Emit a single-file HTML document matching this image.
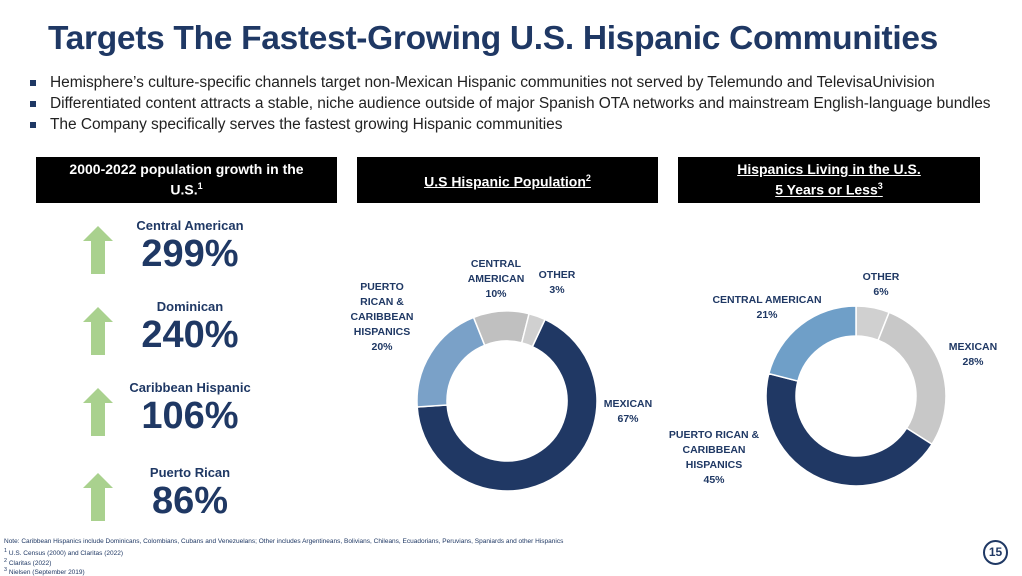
<!DOCTYPE html>
<html><head><meta charset="utf-8">
<style>
*{margin:0;padding:0;box-sizing:border-box}
body{width:1022px;height:574px;background:#fff;position:relative;overflow:hidden;font-family:"Liberation Sans",sans-serif;color:#1f3864}
.abs{position:absolute}
h1{position:absolute;left:48px;top:20px;font-size:33.5px;font-weight:bold;color:#1f3864;letter-spacing:-0.3px;white-space:nowrap}
.bul{position:absolute;left:30px;font-size:15.5px;color:#222;white-space:nowrap;letter-spacing:-0.05px}
.bul::before{content:"";position:absolute;left:0;top:6px;width:6px;height:6px;background:#1f3864}
.bul span{margin-left:20px}
.hdr{position:absolute;top:157px;height:46px;background:#000;color:#fff;font-weight:bold;font-size:14px;text-align:center;display:flex;align-items:center;justify-content:center;line-height:17px}
.hdr.u span{text-decoration:underline}
.lbl{position:absolute;width:200px;left:90px;text-align:center;font-weight:bold;font-size:13px;color:#1f3864}
.big{position:absolute;width:200px;left:90px;text-align:center;font-weight:bold;font-size:38px;color:#1f3864}
.arrow{position:absolute;left:83px;width:30px;height:48px}
.note{position:absolute;left:4px;font-size:6.5px;color:#1f3864;white-space:nowrap}
</style></head><body>
<h1>Targets The Fastest-Growing U.S. Hispanic Communities</h1>
<div class="bul" style="top:74px"><span>Hemisphere’s culture-specific channels target non-Mexican Hispanic communities not served by Telemundo and TelevisaUnivision</span></div>
<div class="bul" style="top:95px"><span>Differentiated content attracts a stable, niche audience outside of major Spanish OTA networks and mainstream English-language bundles</span></div>
<div class="bul" style="top:116px"><span>The Company specifically serves the fastest growing Hispanic communities</span></div>

<div class="hdr" style="left:36px;width:301px"><span>2000-2022 population growth in the<br>U.S.<sup style="font-size:9px">1</sup></span></div>
<div class="hdr u" style="left:357px;width:301px"><span>U.S Hispanic Population<sup style="font-size:9px">2</sup></span></div>
<div class="hdr u" style="left:678px;width:302px"><span>Hispanics Living in the U.S.<br>5 Years or Less<sup style="font-size:9px">3</sup></span></div>

<div id="growth"></div>

<svg class="abs" style="left:0;top:0" width="1022" height="574" id="charts"></svg>

<div class="note" style="top:538px">Note: Caribbean Hispanics include Dominicans, Colombians, Cubans and Venezuelans; Other includes Argentineans, Bolivians, Chileans, Ecuadorians, Peruvians, Spaniards and other Hispanics</div>
<div class="note" style="top:548px"><sup>1</sup> U.S. Census (2000) and Claritas (2022)</div>
<div class="note" style="top:558px"><sup>2</sup> Claritas (2022)</div>
<div class="note" style="top:567px"><sup>3</sup> Nielsen (September 2019)</div>
<div class="abs" style="left:983px;top:540px;width:25px;height:25px;border:2px solid #1f3864;border-radius:50%;font-size:12px;font-weight:bold;text-align:center;line-height:21px">15</div>

<script>
const growthLabels=["Central American","Dominican","Caribbean Hispanic","Puerto Rican"];
const growthValues=[299,240,106,86];
const pop1Cats=["MEXICAN","PUERTO RICAN & CARIBBEAN HISPANICS","CENTRAL AMERICAN","OTHER"];
const pop1Vals=[67,20,10,3];
const pop2Cats=["OTHER","MEXICAN","PUERTO RICAN & CARIBBEAN HISPANICS","CENTRAL AMERICAN"];
const pop2Vals=[6,28,45,21];

const g=document.getElementById('growth');
const rowTops=[218,299,380,465];
growthLabels.forEach((l,i)=>{
  const t=rowTops[i];
  const a=document.createElement('div');a.className='lbl';a.style.top=t+'px';a.textContent=l;
  
  
  g.appendChild(a);
  const b=document.createElement('div');b.className='big';b.style.top=(t+15)+'px';b.textContent=growthValues[i]+'%';
  
  
  g.appendChild(b);
  const ar=document.createElementNS('http://www.w3.org/2000/svg','svg');
  ar.setAttribute('class','arrow');ar.setAttribute('viewBox','0 0 30 48');ar.style.top=(t+8)+'px';
  ar.innerHTML='<polygon points="15,0 30,15 22,15 22,48 8,48 8,15 0,15" fill="#a9d18e"/>';
  
  
  g.appendChild(ar);
});

const NS='http://www.w3.org/2000/svg';
const svg=document.getElementById('charts');
function arc(cx,cy,r0,r1,a0,a1){
  const p=(r,a)=>[cx+r*Math.sin(a*Math.PI/180),cy-r*Math.cos(a*Math.PI/180)];
  const L=(a1-a0)>180?1:0;
  const [x0,y0]=p(r1,a0),[x1,y1]=p(r1,a1),[x2,y2]=p(r0,a1),[x3,y3]=p(r0,a0);
  return `M${x0},${y0}A${r1},${r1} 0 ${L} 1 ${x1},${y1}L${x2},${y2}A${r0},${r0} 0 ${L} 0 ${x3},${y3}Z`;
}
function donut(cx,cy,vals,cats,colors,start,name){
  const tot=vals.reduce((s,v)=>s+v,0);let a=start;
  vals.forEach((v,i)=>{
    const sw=v/tot*360;
    const p=document.createElementNS(NS,'path');
    p.setAttribute('d',arc(cx,cy,60,90,a,a+sw));
    p.setAttribute('fill',colors[i]);p.setAttribute('stroke','#fff');p.setAttribute('stroke-width','1.5');
    
    
    svg.appendChild(p);a+=sw;
  });
}
function label(x,y,lines,name){
  const t=document.createElementNS(NS,'text');
  t.setAttribute('x',x);t.setAttribute('y',y);t.setAttribute('text-anchor','middle');
  t.setAttribute('font-size','10.5');t.setAttribute('font-weight','bold');t.setAttribute('fill','#1f3864');
  t.setAttribute('font-family','Liberation Sans, sans-serif');
  lines.forEach((l,i)=>{const s=document.createElementNS(NS,'tspan');s.setAttribute('x',x);s.setAttribute('dy',i?15:0);s.textContent=l;t.appendChild(s);});
  
  
  svg.appendChild(t);
}
donut(507,401,pop1Vals,pop1Cats,['#203864','#7aa1c8','#c0c0c0','#d0d0d0'],25,'population');
donut(856,396,pop2Vals,pop2Cats,['#d0d0d0','#c8c8c8','#203864','#6f9fc8'],0,'recent');
label(628,407,['MEXICAN',pop1Vals[0]+'%'],'population-label-mexican');
label(382,290,['PUERTO','RICAN &','CARIBBEAN','HISPANICS',pop1Vals[1]+'%'],'population-label-pr');
label(496,267,['CENTRAL','AMERICAN',pop1Vals[2]+'%'],'population-label-ca');
label(557,278,['OTHER',pop1Vals[3]+'%'],'population-label-other');
label(881,280,['OTHER',pop2Vals[0]+'%'],'recent-label-other');
label(973,350,['MEXICAN',pop2Vals[1]+'%'],'recent-label-mexican');
label(714,438,['PUERTO RICAN &','CARIBBEAN','HISPANICS',pop2Vals[2]+'%'],'recent-label-pr');
label(767,303,['CENTRAL AMERICAN',pop2Vals[3]+'%'],'recent-label-ca');
</script>
</body></html>
